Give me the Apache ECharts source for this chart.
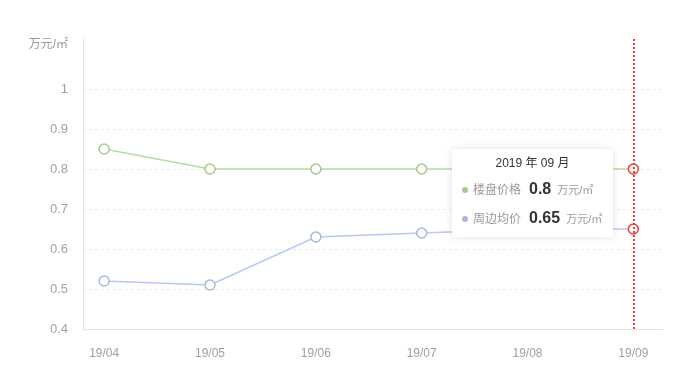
<!DOCTYPE html>
<html>
<head>
<meta charset="utf-8">
<script src="https://cdn.jsdelivr.net/npm/echarts@6/dist/echarts.min.js"></script>
<style>
html,body{margin:0;padding:0;background:#fff;}
#main{width:678px;height:382px;}
</style>
</head>
<body>
<div id="main"></div>
<script>
var categories = ['19/04', '19/05', '19/06', '19/07', '19/08', '19/09'];
var monthTitles = ['2019 年 04 月', '2019 年 05 月', '2019 年 06 月', '2019 年 07 月', '2019 年 08 月', '2019 年 09 月'];
var seriesNames = ['楼盘价格', '周边均价'];
var projectPrice = [0.85, 0.8, 0.8, 0.8, 0.8, 0.8];
var areaPrice = [0.52, 0.51, 0.63, 0.64, 0.65, 0.65];
var yTicks = [0.4, 0.5, 0.6, 0.7, 0.8, 0.9, 1];
var unit = '万元/㎡';
var colors = ['#a6ca8c', '#a9b7dd'];

function pairs(arr) { return arr.map(function (v, i) { return [i, v]; }); }
var xIdx = categories.map(function (c, i) { return i; });

var chart = echarts.init(document.getElementById('main'));
var font = 'Arial, "Liberation Sans", "Noto Sans CJK SC", sans-serif';

function mkSeries(name, data, color) {
  return {
    name: name, type: 'line', data: pairs(data),
    symbol: 'circle', symbolSize: 10, showSymbol: true,
    lineStyle: { color: color, width: 1.5 },
    itemStyle: { color: '#fff', borderColor: color, borderWidth: 1.5 },
    emphasis: { scale: false, itemStyle: { color: '#fff', borderColor: '#f03c3c', borderWidth: 1.5 } }
  };
}

chart.setOption({
  animation: false,
  textStyle: { fontFamily: font },
  grid: { left: 83, right: 15, top: 39, bottom: 53 },
  xAxis: {
    type: 'value', min: -0.2, max: 5.28,
    axisLine: { show: true, onZero: false, lineStyle: { color: '#e3e3e3' } },
    axisTick: { show: false, customValues: xIdx },
    splitLine: { show: false },
    axisLabel: {
      customValues: xIdx, color: '#a0a0a0', fontSize: 12, margin: 19,
      formatter: function (v) { return categories[Math.round(v)]; }
    }
  },
  yAxis: {
    type: 'value', min: 0.4, max: 1.125,
    name: unit, nameLocation: 'end', nameGap: -12,
    nameTextStyle: { color: '#999', fontSize: 12, align: 'right', padding: [0, 15, 0, 0] },
    axisLine: { show: true, onZero: false, lineStyle: { color: '#e3e3e3' } },
    axisTick: { show: false, customValues: yTicks },
    axisLabel: { customValues: yTicks, color: '#a0a0a0', fontSize: 13, margin: 15 },
    splitLine: { show: true, lineStyle: { color: '#e8e8e8', type: [3, 3] } }
  },
  tooltip: {
    trigger: 'axis',
    alwaysShowContent: true,
    position: [452, 149],
    backgroundColor: '#fff',
    borderWidth: 0,
    padding: [6, 10, 4, 10],
    extraCssText: 'box-shadow:0 0 8px rgba(0,0,0,0.12);border-radius:4px;width:141px;',
    axisPointer: {
      type: 'line', snap: true,
      lineStyle: { color: '#f03c3c', width: 2, type: [2, 2] }
    },
    formatter: function (params) {
      var idx = params[0].dataIndex;
      var h = '<div style="text-align:center;color:#333;font-size:12px;line-height:16px;margin-bottom:4px;">' + monthTitles[idx] + '</div>';
      params.forEach(function (p) {
        h += '<div style="line-height:28px;white-space:nowrap;">' +
          '<span style="display:inline-block;width:6px;height:6px;border-radius:3px;background:' + colors[p.seriesIndex] + ';margin-right:5px;vertical-align:middle;"></span>' +
          '<span style="color:#999;font-size:12px;">' + p.seriesName + '</span>' +
          '<span style="color:#333;font-size:16px;font-weight:bold;margin:0 6px 0 8px;">' + p.value[1] + '</span>' +
          '<span style="color:#999;font-size:11px;">' + unit + '</span></div>';
      });
      return h;
    }
  },
  series: [
    mkSeries(seriesNames[0], projectPrice, colors[0]),
    mkSeries(seriesNames[1], areaPrice, colors[1])
  ]
});

chart.dispatchAction({ type: 'showTip', seriesIndex: 0, dataIndex: 5 });
</script>
</body>
</html>
